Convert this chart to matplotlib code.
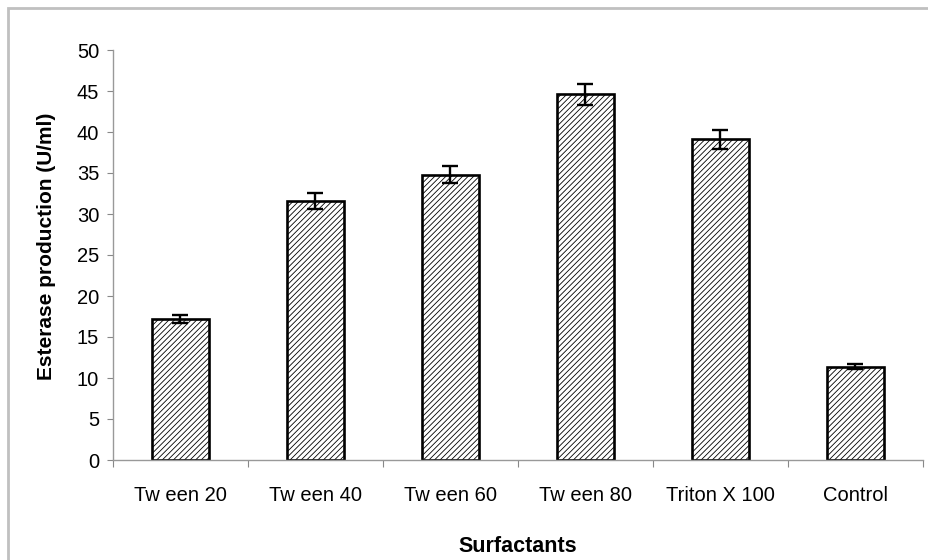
import matplotlib
matplotlib.use('Agg')
import matplotlib.pyplot as plt
from matplotlib.patches import Rectangle

# datos
surfactants = ['Tw een 20', 'Tw een 40', 'Tw een 60', 'Tw een 80', 'Triton X 100', 'Control']
production = [17.2, 31.6, 34.8, 44.6, 39.1, 11.4]
errors = [0.5, 1.0, 1.0, 1.3, 1.2, 0.25]

plt.rcParams['font.family'] = ['Liberation Sans', 'DejaVu Sans']
plt.rcParams['hatch.linewidth'] = 0.6
plt.rcParams['hatch.color'] = '#444444'

fig = plt.figure(figsize=(9.29, 5.6), dpi=100)
# marco gris exterior
fig.patches.append(Rectangle((8 / 929, -0.1), 1.2, (552 / 560) + 0.1,
                             transform=fig.transFigure, fill=False,
                             edgecolor='#c0c0c0', linewidth=2))
ax = fig.add_axes([113 / 929, 1 - 460 / 560, 810 / 929, 410 / 560])

x = list(range(len(surfactants)))
ax.bar(x, production, width=0.42, color='white', edgecolor='black',
       linewidth=1.9, hatch='//////', zorder=2)
ax.errorbar(x, production, yerr=errors, fmt='none', ecolor='black',
            elinewidth=1.7, capsize=5.5, capthick=1.7, zorder=3)

ax.set_xlim(-0.5, len(surfactants) - 0.5)
ax.set_ylim(0, 50)
ax.set_yticks(range(0, 51, 5))
ax.set_xticks([i - 0.5 for i in range(len(surfactants) + 1)])
ax.set_xticklabels([])
ax.set_xticks(x, minor=True)
ax.set_xticklabels(surfactants, minor=True)
ax.tick_params(axis='x', which='minor', length=0, pad=19, labelsize=14.5)
ax.tick_params(axis='x', which='major', length=5, color='#888888', direction='out')
ax.tick_params(axis='y', length=4, color='#888888', direction='out', labelsize=14.5, pad=6)

for s in ['top', 'right']:
    ax.spines[s].set_visible(False)
for s in ['left', 'bottom']:
    ax.spines[s].set_color('#999999')
    ax.spines[s].set_linewidth(1.0)

ax.set_ylabel('Esterase production (U/ml)', fontsize=15, fontweight='bold')
ax.yaxis.set_label_coords(-0.070, 0.52)
ax.set_xlabel('Surfactants', fontsize=15.5, fontweight='bold', labelpad=22)

plt.savefig('out.png', dpi=100)
